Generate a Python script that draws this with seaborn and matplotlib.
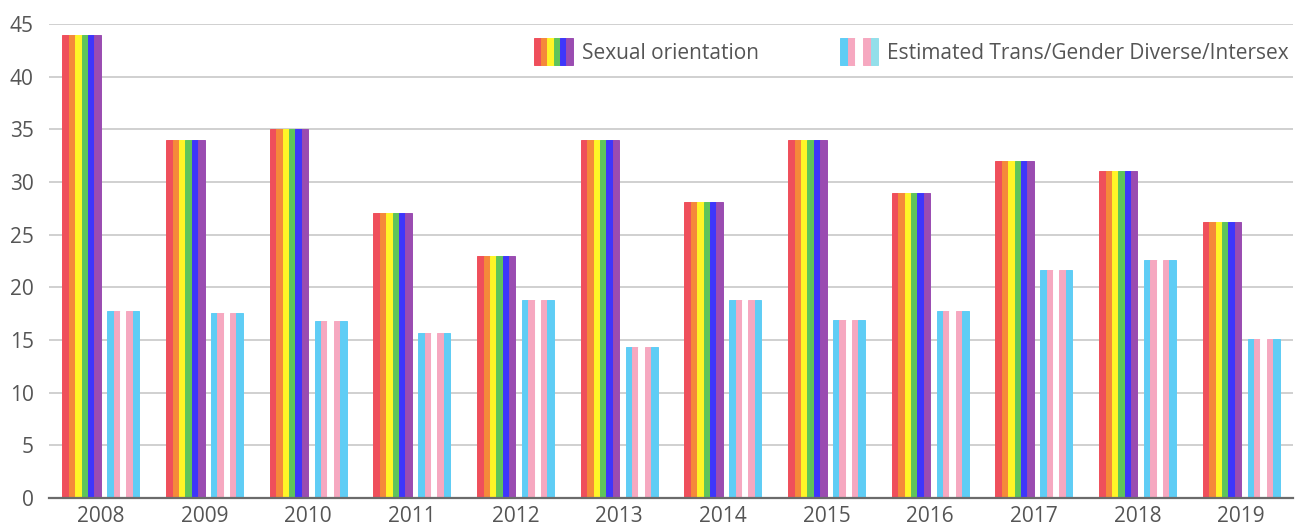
import matplotlib
matplotlib.use("Agg")
import matplotlib.pyplot as plt
from matplotlib.patches import Rectangle
from matplotlib.legend_handler import HandlerBase
import seaborn as sns
import pandas as pd

# values
years = ["2008", "2009", "2010", "2011", "2012", "2013",
         "2014", "2015", "2016", "2017", "2018", "2019"]
sexual_orientation = [44, 34, 35, 27.1, 23, 34, 28.1, 34, 29, 32, 31, 26.2]
trans_gd_intersex = [17.8, 17.6, 16.8, 15.7, 18.8, 14.3, 18.8, 16.9, 17.8, 21.6, 22.6, 15.1]

rainbow = ["#ef4f5b", "#f5893a", "#fff527", "#5fc45a", "#3e36fb", "#9a4cb1"]
trans_flag = ["#5fcdf5", "#f6a8c0", "#ffffff", "#f6a8c0", "#5fcdf5"]
trans_legend = ["#5fcdf5", "#f6a8c0", "#ffffff", "#f6a8c0", "#93dfea"]

# each bar is drawn as narrow stripes, one hue level per stripe
stripes = [f"r{i}" for i in range(6)] + ["gap"] + [f"t{i}" for i in range(5)]
palette = dict(zip(stripes, rainbow + ["#ffffff"] + trans_flag))

rows = []
for yr, so, tg in zip(years, sexual_orientation, trans_gd_intersex):
    for s in stripes:
        if s.startswith("r"):
            v = so
        elif s.startswith("t"):
            v = tg
        else:
            v = 0
        rows.append({"year": yr, "stripe": s, "value": v})
df = pd.DataFrame(rows)

sns.set_style("white")
plt.rcParams['font.family'] = ['Open Sans', 'DejaVu Sans']

fig = plt.figure(figsize=(13.07, 5.29), dpi=100)
ax = fig.add_axes([49 / 1307, 1 - 498 / 529, 1244 / 1307, 474 / 529])

sns.barplot(data=df, x="year", y="value", hue="stripe", hue_order=stripes,
            palette=palette, width=0.74, gap=0, linewidth=0, saturation=1,
            errorbar=None, legend=False, ax=ax, zorder=3)

# close the hairline gaps between neighbouring stripes
for p in ax.patches:
    p.set_edgecolor(p.get_facecolor())
    p.set_linewidth(0.7)

ax.set_ylim(0, 45)
ax.set_yticks(range(0, 46, 5))
ax.set_xlim(-0.5, len(years) - 0.5)
ax.set_xlabel("")
ax.set_ylabel("")
ax.yaxis.grid(True, color="#c8c8c8", linewidth=1.2, zorder=0)
ax.set_axisbelow(True)
for side in ["top", "right", "left"]:
    ax.spines[side].set_visible(False)
ax.spines["bottom"].set_color("#6b6b6b")
ax.spines["bottom"].set_linewidth(1.6)
ax.spines["bottom"].set_zorder(5)
ax.tick_params(axis="both", length=0, labelsize=15, labelcolor="#555555")
ax.tick_params(axis="y", pad=11)
ax.tick_params(axis="x", pad=6)


class StripeHandler(HandlerBase):
    def __init__(self, colors):
        super().__init__()
        self.colors = colors

    def create_artists(self, legend, orig_handle, xdescent, ydescent,
                       width, height, fontsize, trans):
        n = len(self.colors)
        w = width / n
        arts = []
        for i, c in enumerate(self.colors):
            r = Rectangle((-xdescent + i * w, -ydescent - height * 0.22), w, height * 1.44,
                          facecolor=c, edgecolor=c, linewidth=0.7, transform=trans)
            arts.append(r)
        return arts


h1 = Rectangle((0, 0), 1, 1)
h2 = Rectangle((0, 0), 1, 1)
leg = ax.legend([h1, h2], ["Sexual orientation", "Estimated Trans/Gender Diverse/Intersex"],
                handler_map={h1: StripeHandler(rainbow), h2: StripeHandler(trans_legend)},
                ncol=2, frameon=False, loc="upper right", bbox_to_anchor=(1.0, 0.97),
                borderaxespad=0, borderpad=0.2, handlelength=1.85, handleheight=1.0,
                handletextpad=0.42, columnspacing=3.9, fontsize=15)
for t in leg.get_texts():
    t.set_color("#555555")

fig.savefig("out.png", dpi=100)
